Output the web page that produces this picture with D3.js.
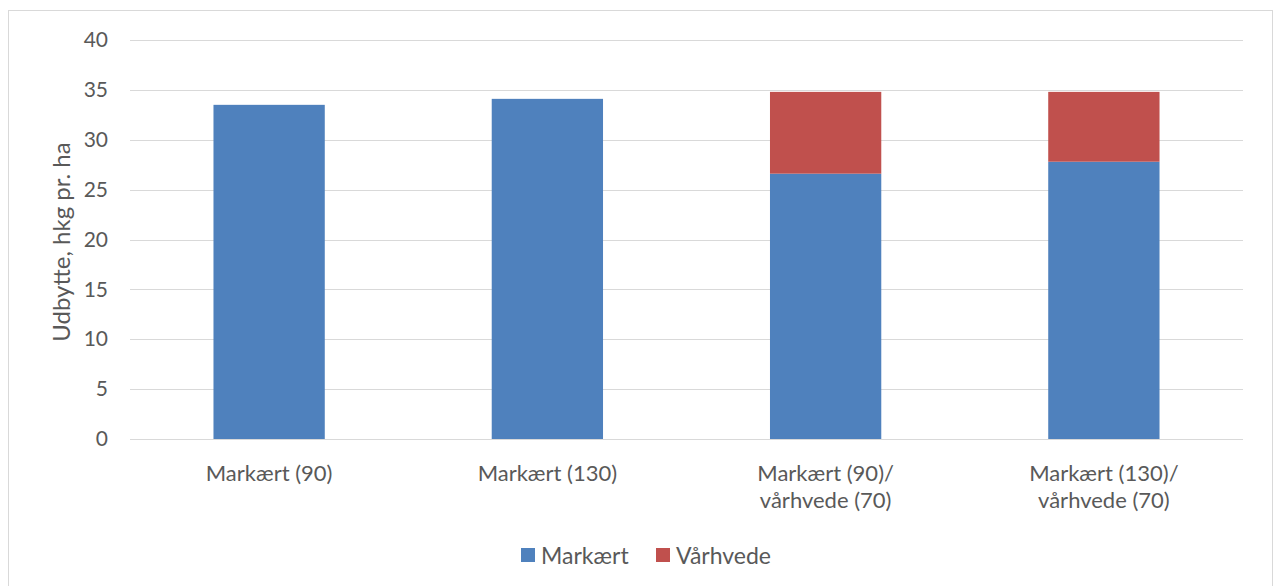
<!DOCTYPE html>
<html><head><meta charset="utf-8">
<script src="https://cdn.jsdelivr.net/npm/d3@7"></script>
<style>
body{margin:0;background:#fff;}
text{font-family:Lato, "Open Sans", sans-serif;fill:#595959;}
</style></head>
<body>
<svg id="c" width="1274" height="586"></svg>
<script>
const categories = [["Markært (90)"],["Markært (130)"],["Markært (90)/","vårhvede (70)"],["Markært (130)/","vårhvede (70)"]];
const markaert = [33.5, 34.1, 26.6, 27.8];
const vaarhvede = [0, 0, 8.2, 7.0];
const yTicks = [0,5,10,15,20,25,30,35,40];
const seriesNames = ["Markært","Vårhvede"];
const colors = ["#4F81BD","#C0504D"];

(function(){
const svg = d3.select("#c");
svg.append("rect").attr("x",8.5).attr("y",10.5).attr("width",1264).attr("height",600)
  .attr("fill","#fff").attr("stroke","#D9D9D9");

const pl=130, pr=1243, pt=40, pb=439;
const x = d3.scaleBand().domain(d3.range(categories.length)).range([pl,pr]).paddingInner(0.6).paddingOuter(0.3);
const y = d3.scaleLinear().domain([0,40]).range([pb,pt]);

svg.append("g").selectAll("line").data(yTicks).join("line")
  .attr("x1",pl).attr("x2",pr).attr("y1",d=>Math.round(y(d))+0.5).attr("y2",d=>Math.round(y(d))+0.5)
  .attr("stroke","#D9D9D9").attr("stroke-width",1);

const yAxis = d3.axisLeft(y).tickValues(yTicks).tickSize(0).tickPadding(0);
const gy = svg.append("g").attr("transform",`translate(${pl-22},0)`).call(yAxis);
gy.select(".domain").remove();
gy.selectAll("text").style("font-size","21px").attr("fill","#595959").style("font-family","Lato, sans-serif");

const stackData = categories.map((c,i)=>({i, m:markaert[i], v:vaarhvede[i]}));
const stack = d3.stack().keys(["m","v"])(stackData);
svg.append("g").selectAll("g").data(stack).join("g").attr("fill",(d,i)=>colors[i])
  .selectAll("rect").data(d=>d).join("rect")
  .attr("x",d=>x(d.data.i)).attr("width",x.bandwidth())
  .attr("y",d=>y(d[1])).attr("height",d=>y(d[0])-y(d[1]));

const xl = svg.append("g");
categories.forEach((lines,i)=>{
  const cx = x(i)+x.bandwidth()/2;
  const t = xl.append("text").attr("x",cx).attr("y",481).attr("text-anchor","middle").style("font-size","22px");
  lines.forEach((l,j)=>t.append("tspan").attr("x",cx).attr("dy",j===0?0:27).text(l));
});

svg.append("text").attr("transform","translate(70,242) rotate(-90)").attr("text-anchor","middle")
  .style("font-size","24px").text("Udbytte, hkg pr. ha");

const lg = svg.append("g");
const legX=[521,656];
seriesNames.forEach((n,i)=>{
  lg.append("rect").attr("x",legX[i]).attr("y",548).attr("width",14).attr("height",14).attr("fill",colors[i]);
  lg.append("text").attr("x",legX[i]+20).attr("y",564).style("font-size","23px").text(n);
});
})();
</script>
</body></html>
